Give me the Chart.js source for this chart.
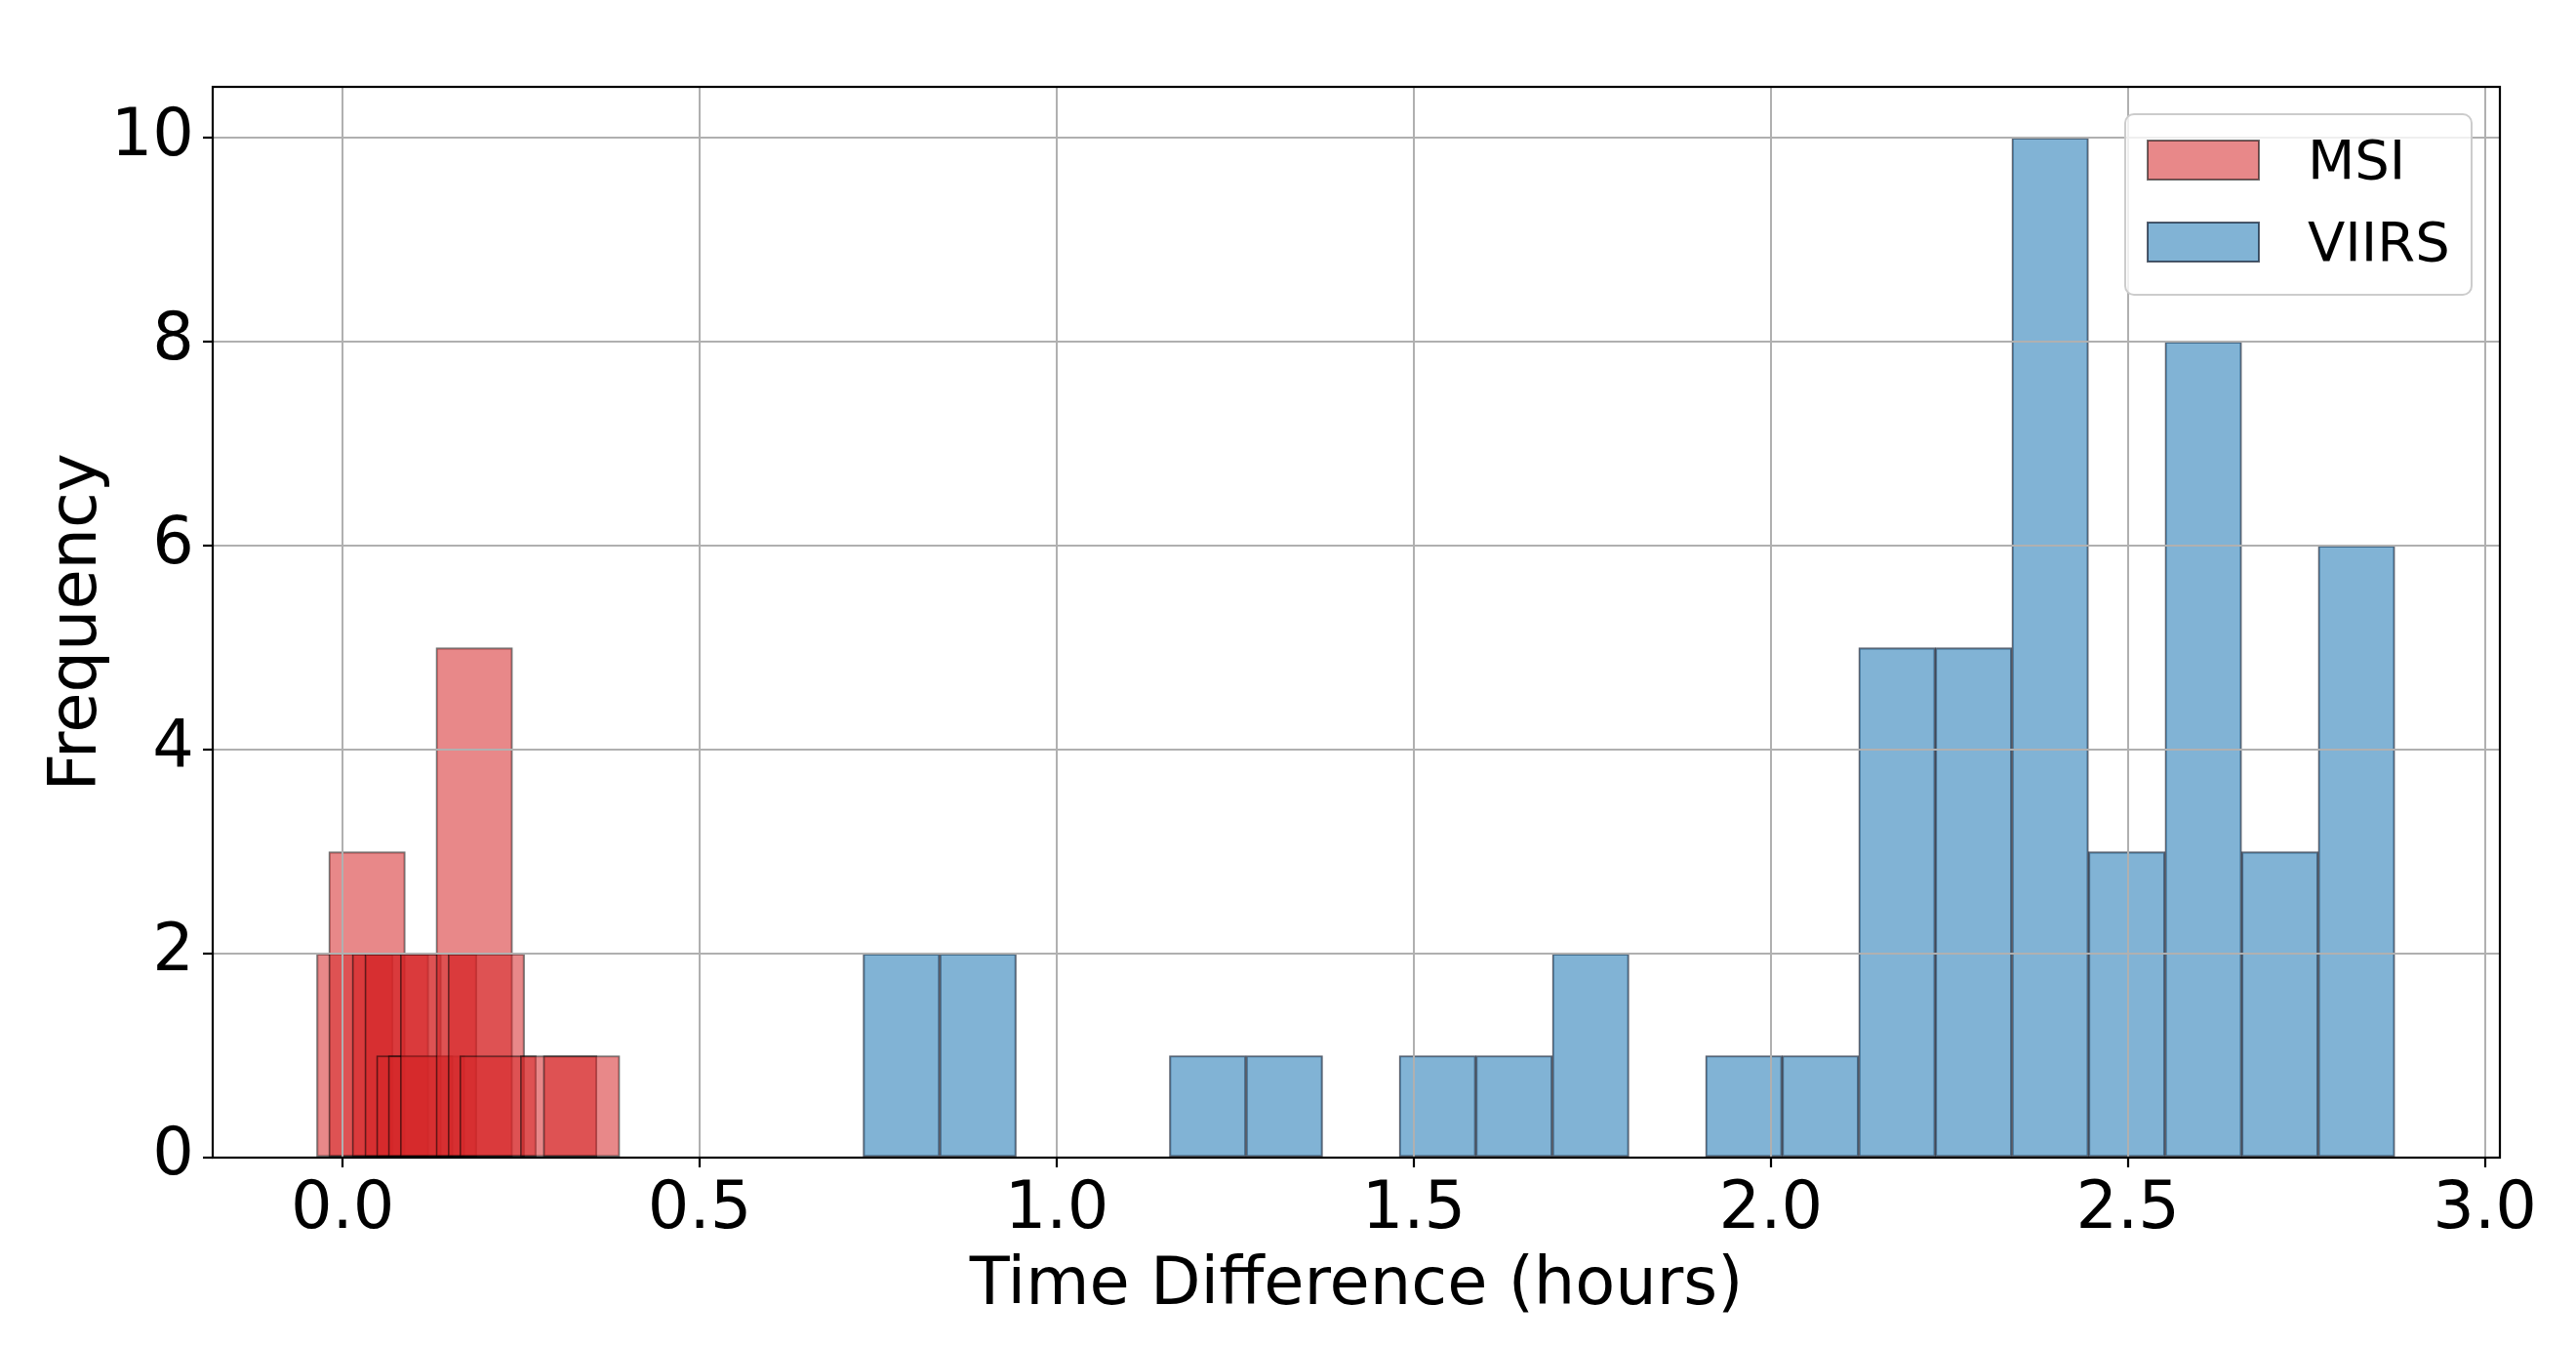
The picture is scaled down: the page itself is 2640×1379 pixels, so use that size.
<!DOCTYPE html>
<html>
<head>
<meta charset="utf-8">
<script src="https://cdn.jsdelivr.net/npm/chart.js@4.4.0/dist/chart.umd.min.js"></script>
<style>
  html, body { margin: 0; padding: 0; background: #fff; }
  canvas { display: block; }
</style>
</head>
<body>
<canvas id="chart" width="2640" height="1379"></canvas>
<script>
// MSI bars (hours, bar centre) and their counts; they overlap in the original
const msiCenters = [0.0171, 0.0341, 0.0669, 0.0846, 0.1010, 0.1174, 0.1342, 0.1843, 0.2011, 0.2175, 0.3025, 0.3345];
const msiCounts = [2, 3, 2, 2, 1, 1, 2, 5, 2, 1, 1, 1];

// VIIRS histogram bins, empty bins left out
const viirsCenters = [0.7824, 0.8897, 1.2114, 1.3187, 1.5332, 1.6404, 1.7477, 1.9622, 2.0694,
                      2.1767, 2.2839, 2.3912, 2.4984, 2.6057, 2.7129, 2.8202];
const viirsCounts = [2, 2, 1, 1, 1, 1, 2, 1, 1, 5, 5, 10, 3, 8, 3, 6];

const binWidth = 0.10725;
const seriesLabels = ['MSI', 'VIIRS'];
const xLimits = [-0.182, 3.021];
const yLimits = [0, 10.5];
const xStep = 0.5;
const yStep = 2;

// layout
const W = 2640, H = 1379;
const padTop = 89, padRight = 78, yAxisW = 218, xAxisH = 193;
const plotW = W - yAxisW - padRight;
const barPx = binWidth * plotW / (xLimits[1] - xLimits[0]);

Chart.defaults.font.family = "'DejaVu Sans', sans-serif";
Chart.defaults.color = '#000';

const framePlugin = {
  id: 'frame',
  afterDraw(chart) {
    const { ctx, chartArea: a } = chart;
    ctx.save();
    ctx.strokeStyle = '#000';
    ctx.lineWidth = 2.2;
    ctx.strokeRect(a.left, a.top, a.right - a.left, a.bottom - a.top);
    ctx.restore();
  }
};

const legendPlugin = {
  id: 'boxLegend',
  afterDraw(chart) {
    const { ctx, chartArea: a } = chart;
    const w = 355, h = 185;
    const x0 = a.right - 384, y0 = a.top + 28;
    ctx.save();
    ctx.beginPath();
    ctx.roundRect(x0, y0, w, h, 9);
    ctx.fillStyle = 'rgba(255,255,255,0.8)';
    ctx.fill();
    ctx.strokeStyle = '#cccccc';
    ctx.lineWidth = 2;
    ctx.stroke();
    chart.data.datasets.forEach((ds, i) => {
      const sy = y0 + 27 + i * 84;
      ctx.fillStyle = ds.backgroundColor;
      ctx.fillRect(x0 + 23, sy, 114, 40);
      ctx.strokeStyle = ds.borderColor;
      ctx.lineWidth = 2;
      ctx.strokeRect(x0 + 23, sy, 114, 40);
      ctx.fillStyle = '#000';
      ctx.font = "56px 'DejaVu Sans'";
      ctx.textBaseline = 'alphabetic';
      ctx.fillText(ds.label, x0 + 187, sy + 39);
    });
    ctx.restore();
  }
};

const gridOpts = {
  color: '#b0b0b0',
  lineWidth: 2,
  z: 1,
  offset: false,
  drawTicks: true,
  tickLength: 10,
  tickColor: '#000',
  tickWidth: 2.2
};

new Chart(document.getElementById('chart'), {
  type: 'bar',
  data: {
    datasets: [
      {
        label: seriesLabels[0],
        data: msiCenters.map((x, i) => ({ x: x, y: msiCounts[i] })),
        backgroundColor: 'rgba(214,39,40,0.55)',
        borderColor: 'rgba(0,0,0,0.55)',
        borderWidth: 1.5,
        borderSkipped: false,
        grouped: false,
        barThickness: barPx
      },
      {
        label: seriesLabels[1],
        data: viirsCenters.map((x, i) => ({ x: x, y: viirsCounts[i] })),
        backgroundColor: 'rgba(31,119,180,0.56)',
        borderColor: 'rgba(5,15,35,0.65)',
        borderWidth: 1.5,
        borderSkipped: false,
        grouped: false,
        barThickness: barPx
      }
    ]
  },
  options: {
    responsive: false,
    animation: false,
    devicePixelRatio: 1,
    layout: { padding: { top: padTop, right: padRight, left: 0, bottom: 0 } },
    plugins: {
      legend: { display: false },
      tooltip: { enabled: false }
    },
    scales: {
      x: {
        type: 'linear',
        min: xLimits[0],
        max: xLimits[1],
        offset: false,
        grid: gridOpts,
        border: { display: false },
        ticks: {
          stepSize: xStep,
          includeBounds: false,
          autoSkip: false,
          maxRotation: 0,
          padding: 4,
          font: { size: 67 },
          callback: (v) => v.toFixed(1)
        },
        title: {
          display: true,
          text: 'Time Difference (hours)',
          font: { size: 67 },
          padding: { top: 0, bottom: 20 }
        },
        afterFit: (s) => { s.height = xAxisH; }
      },
      y: {
        min: yLimits[0],
        max: yLimits[1],
        grid: gridOpts,
        border: { display: false },
        ticks: {
          stepSize: yStep,
          includeBounds: false,
          padding: 9,
          font: { size: 67 }
        },
        title: {
          display: true,
          text: 'Frequency',
          font: { size: 67 },
          padding: { top: 40, bottom: 0 }
        },
        afterFit: (s) => { s.width = yAxisW; }
      }
    }
  },
  plugins: [framePlugin, legendPlugin]
});
</script>
</body>
</html>
